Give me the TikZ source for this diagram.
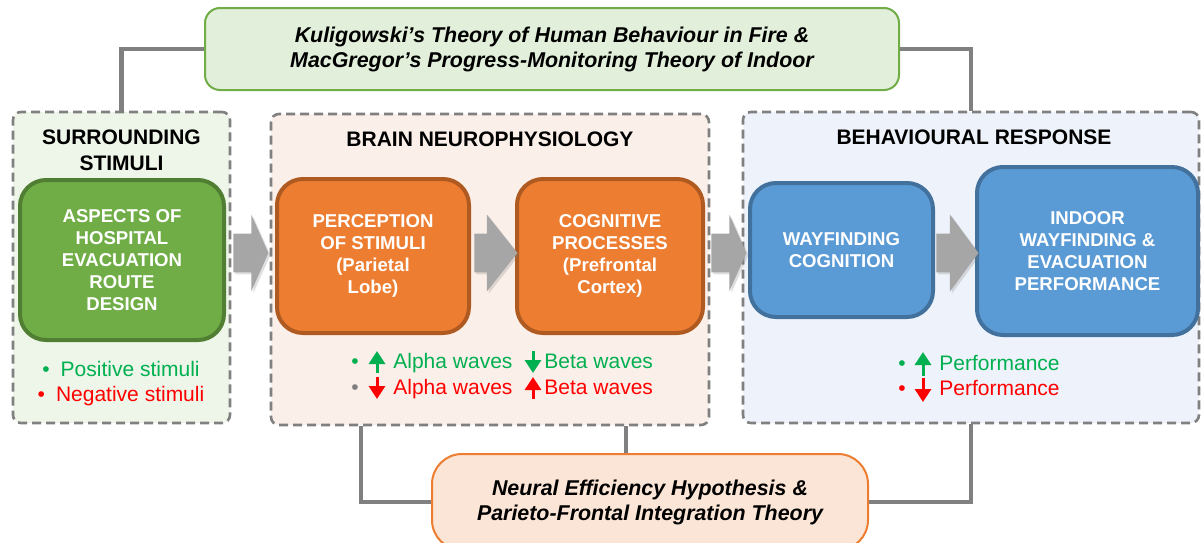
\documentclass[tikz,border=0pt]{standalone}
\usepackage{fontspec}
\setmainfont{Liberation Sans}
\usetikzlibrary{arrows.meta,shapes.arrows,shadows}

\definecolor{linkgray}{HTML}{808080}
\definecolor{flowgray}{HTML}{A6A6A6}
\definecolor{okgreen}{HTML}{00B050}
\definecolor{badred}{HTML}{FF0000}
\definecolor{dotgray}{HTML}{7F7F7F}
\definecolor{surrfill}{HTML}{EEF5E9}
\definecolor{brainfill}{HTML}{FBEFE9}
\definecolor{respfill}{HTML}{EEF2FA}
\definecolor{aspfill}{HTML}{70AD47}
\definecolor{aspdraw}{HTML}{507E32}
\definecolor{brfill}{HTML}{ED7D31}
\definecolor{brdraw}{HTML}{AE5A21}
\definecolor{wffill}{HTML}{5B9BD5}
\definecolor{wfdraw}{HTML}{41719C}
\definecolor{kulfill}{HTML}{E2EFDA}
\definecolor{kuldraw}{HTML}{70AD47}
\definecolor{nefill}{HTML}{FBE5D6}
\definecolor{nedraw}{HTML}{ED7D31}

\tikzset{
  region/.style={draw=linkgray, dash pattern=on 4.5pt off 2.5pt, line width=1.3pt,
    rounded corners=4pt, inner sep=0pt},
  stage/.style={line width=2pt, rounded corners=13pt, text=white, align=center,
    font=\fontsize{9.3}{11}\selectfont\bfseries, inner sep=0pt},
  theory/.style={line width=1pt, align=center,
    font=\fontsize{10.7}{12.5}\selectfont\bfseries\itshape, inner sep=0pt},
  heading/.style={font=\fontsize{10.5}{13}\selectfont\bfseries, align=center, inner sep=0pt},
  note/.style={font=\fontsize{10.5}{13}\selectfont, inner sep=0pt},
  link/.style={draw=linkgray, line width=2.3pt},
  flow/.style={single arrow, fill=flowgray, inner xsep=0pt, inner ysep=9.5pt,
    text height=0pt, text depth=0pt, minimum width=0pt, single arrow head extend=9.5pt,
    single arrow head indent=0pt, anchor=tail,
    drop shadow={opacity=0.25, shadow xshift=1pt, shadow yshift=-1pt}},
  trend/.style={line width=1.5pt, -{Triangle[width=8pt,length=6.5pt]}},
}

\begin{document}
\begin{tikzpicture}[x=0.5pt,y=-0.5pt]
  \useasboundingbox (0,0) rectangle (1201,542);

  % the three dashed regions
  \node[region, fill=surrfill, minimum width=108.5pt, minimum height=155.5pt] (surr) at (121.5,267.5) {};
  \node[region, fill=brainfill, minimum width=219pt, minimum height=155.5pt] (brain) at (490,269.5) {};
  \node[region, fill=respfill, minimum width=228pt, minimum height=155.5pt] (resp) at (971,267.5) {};

  \node[heading] (surrtitle) at (121.5,150) {SURROUNDING\\STIMULI};
  \node[heading, anchor=base] (braintitle) at (490,146.5) {BRAIN NEUROPHYSIOLOGY};
  \node[heading, anchor=base] (resptitle) at (974,144.5) {BEHAVIOURAL RESPONSE};

  % stage boxes
  \node[stage, fill=aspfill, draw=aspdraw, minimum width=102pt, minimum height=80pt] (aspects) at (122,260)
    {ASPECTS OF\\HOSPITAL\\EVACUATION\\ROUTE\\DESIGN};
  \node[stage, fill=brfill, draw=brdraw, minimum width=96pt, minimum height=77pt] (percep) at (373,256)
    {PERCEPTION\\OF STIMULI\\(Parietal\\Lobe)};
  \node[stage, fill=brfill, draw=brdraw, minimum width=93pt, minimum height=77pt] (cognit) at (610,256)
    {COGNITIVE\\PROCESSES\\(Prefrontal\\Cortex)};
  \node[stage, fill=wffill, draw=wfdraw, minimum width=91.5pt, minimum height=67pt] (wayf) at (841.5,250)
    {WAYFINDING\\COGNITION};
  \node[stage, fill=wffill, draw=wfdraw, minimum width=110.5pt, minimum height=84pt] (perform) at (1087.5,251)
    {INDOOR\\WAYFINDING \&\\EVACUATION\\PERFORMANCE};

  % theory boxes
  \node[theory, fill=kulfill, draw=kuldraw, rounded corners=7.5pt, minimum width=347pt, minimum height=41pt] (kuli) at (552,49)
    {Kuligowski's Theory of Human Behaviour in Fire \&\\MacGregor's Progress-Monitoring Theory of Indoor};
  \node[theory, fill=nefill, draw=nedraw, rounded corners=15pt, minimum width=218pt, minimum height=48pt] (neural) at (650,502)
    {Neural Efficiency Hypothesis \&\\Parieto-Frontal Integration Theory};

  % links to the theories
  \coordinate (leftlink) at (361,0);
  \coordinate (midlink) at (626,0);
  \draw[link] (kuli.west) -| (surr.north);
  \draw[link] (kuli.east) -| (resp.north);
  \draw[link] (brain.south -| leftlink) |- (neural.west);
  \draw[link] (brain.south -| midlink) -- (neural.north -| midlink);
  \draw[link] (resp.south) |- (neural.east);

  % flow arrows between stages
  \node[flow, minimum height=17.5pt, single arrow tip angle=132] (f1) at (233,253) {};
  \node[flow, minimum height=21.5pt, single arrow tip angle=103] (f2) at (474,253) {};
  \node[flow, minimum height=17.5pt, single arrow tip angle=132] (f3) at (711,253) {};
  \node[flow, minimum height=21pt, single arrow tip angle=107] (f4) at (936,253) {};

  % stimuli notes
  \node[note, text=okgreen, anchor=base] (pos) at (121,376) {\textbullet\hspace{5.5pt}Positive stimuli};
  \node[note, text=badred, anchor=base] (neg) at (121,401) {\textbullet\hspace{5.5pt}Negative stimuli};

  % brain wave notes
  \node[note, text=okgreen, anchor=base] (dot1) at (355,368) {\textbullet};
  \draw[trend, okgreen] (377,373) -- (377,351);
  \node[note, text=okgreen, anchor=base west] (alpha1) at (393,368) {Alpha waves};
  \draw[trend, okgreen] (533,351) -- (533,373);
  \node[note, text=okgreen, anchor=base west] (beta1) at (544,368) {Beta waves};
  \node[note, text=dotgray, anchor=base] (dot2) at (355,394) {\textbullet};
  \draw[trend, badred] (377,377) -- (377,399);
  \node[note, text=badred, anchor=base west] (alpha2) at (393,394) {Alpha waves};
  \draw[trend, badred] (533,399) -- (533,377);
  \node[note, text=badred, anchor=base west] (beta2) at (544,394) {Beta waves};

  % performance notes
  \node[note, text=okgreen, anchor=base] (dot3) at (902,370) {\textbullet};
  \draw[trend, okgreen] (923,376) -- (923,352);
  \node[note, text=okgreen, anchor=base west] (perf1) at (939,370) {Performance};
  \node[note, text=badred, anchor=base] (dot4) at (902,395) {\textbullet};
  \draw[trend, badred] (923,378) -- (923,402);
  \node[note, text=badred, anchor=base west] (perf2) at (939,395) {Performance};
\end{tikzpicture}
\end{document}
